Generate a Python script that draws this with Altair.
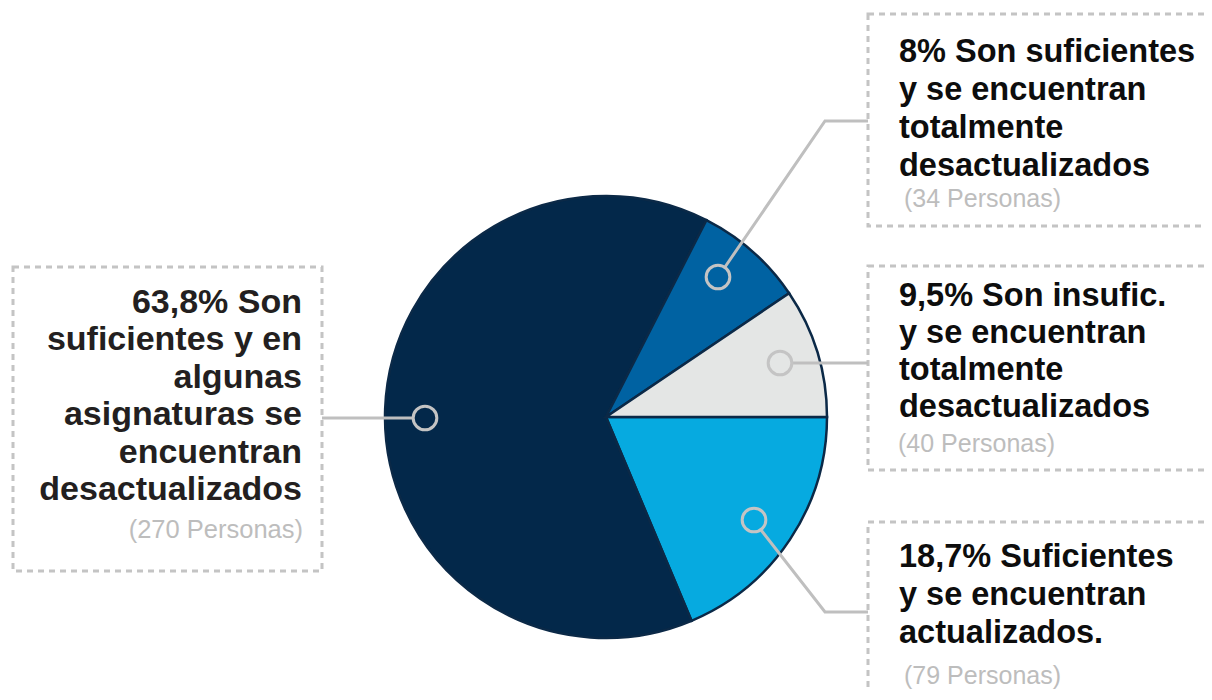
import math
import altair as alt
import pandas as pd

# ---------------- data ----------------
categorias = [
    "Suficientes y actualizados",
    "Suficientes, algunas asignaturas desactualizadas",
    "Suficientes y totalmente desactualizados",
    "Insuficientes y totalmente desactualizados",
]
personas = [79, 270, 34, 40]
orden = [1, 2, 3, 4]
colores = ["#06aae0", "#03284a", "#0062a2", "#e4e6e5"]

etiquetas = [
    ["63,8% Son", "suficientes y en", "algunas", "asignaturas se", "encuentran", "desactualizados"],
    ["8% Son suficientes", "y se encuentran", "totalmente", "desactualizados"],
    ["9,5% Son insufic.", "y se encuentran", "totalmente", "desactualizados"],
    ["18,7% Suficientes", "y se encuentran", "actualizados."],
]
etiquetas_personas = ["(270 Personas)", "(34 Personas)", "(40 Personas)", "(79 Personas)"]

# ---------------- layout (page pixel coordinates) ----------------
W, H = 1196, 684
CX, CY, R = 606, 417, 221
text_x = [302, 899, 899, 899]
text_base = [
    [313, 350, 388, 425, 463, 500],
    [62, 100, 138, 176],
    [306, 343, 380, 417],
    [567, 605, 643],
]
grey_x = [303, 904, 898, 904]
grey_base = [538, 207, 452, 684]
markers = [(425, 418), (718, 277), (780, 363), (754, 520)]
connectors = [
    [(413, 418), (322, 418)],
    [(725, 267), (825, 121), (868, 121)],
    [(792, 363), (868, 363)],
    [(761, 530), (825, 612), (868, 612)],
]
boxes = [(13, 322, 267, 571), (868, 1220, 14, 226), (868, 1220, 266, 470), (868, 1220, 522, 720)]

xs = alt.Scale(domain=[8, 8 + W], range=[0, W])
ys = alt.Scale(domain=[8, 8 + H], range=[0, H])

# ---------------- pie ----------------
pie_df = pd.DataFrame({"categoria": categorias, "personas": personas, "orden": orden})
pie = alt.Chart(pie_df).mark_arc(
    outerRadius=R, stroke="#0b2947", strokeWidth=2.5
).encode(
    theta=alt.Theta("personas:Q", stack=True,
                    scale=alt.Scale(range=[math.pi / 2, math.pi / 2 + 2 * math.pi])),
    color=alt.Color("categoria:N", scale=alt.Scale(domain=categorias, range=colores), legend=None),
    order=alt.Order("orden:Q"),
    x=alt.value(CX - 8),
    y=alt.value(CY - 8),
)

# ---------------- boxes ----------------
box_df = pd.DataFrame(boxes, columns=["x", "x2", "y", "y2"])
box = alt.Chart(box_df).mark_rect(
    fillOpacity=0, stroke="#c4c4c4", strokeWidth=3, strokeDash=[6, 5]
).encode(
    x=alt.X("x:Q", scale=xs, axis=None), x2="x2:Q",
    y=alt.Y("y:Q", scale=ys, axis=None), y2="y2:Q",
)

# ---------------- connectors ----------------
rows = []
for i, seg in enumerate(connectors):
    for k, (px, py) in enumerate(seg):
        rows.append({"id": i, "k": k, "x": px, "y": py})
con_df = pd.DataFrame(rows)
con = alt.Chart(con_df).mark_line(color="#bfbfbf", strokeWidth=3, strokeJoin="miter").encode(
    x=alt.X("x:Q", scale=xs, axis=None),
    y=alt.Y("y:Q", scale=ys, axis=None),
    detail="id:N",
    order="k:Q",
)

mk_df = pd.DataFrame(markers, columns=["x", "y"])
mk = alt.Chart(mk_df).mark_point(
    shape="circle", filled=False, size=560, strokeWidth=3, color="#c4c4c4", opacity=1
).encode(
    x=alt.X("x:Q", scale=xs, axis=None),
    y=alt.Y("y:Q", scale=ys, axis=None),
)

# ---------------- texts ----------------
left_rows, right_rows, grey_left, grey_right = [], [], [], []
for i, lines in enumerate(etiquetas):
    for t, b in zip(lines, text_base[i]):
        (left_rows if i == 0 else right_rows).append({"x": text_x[i], "y": b, "t": t})
    (grey_left if i == 0 else grey_right).append({"x": grey_x[i], "y": grey_base[i], "t": etiquetas_personas[i]})

def text_layer(rows, align, size, color, weight):
    return alt.Chart(pd.DataFrame(rows)).mark_text(
        align=align, baseline="alphabetic", font="Liberation Sans",
        fontSize=size, fontWeight=weight, color=color
    ).encode(
        x=alt.X("x:Q", scale=xs, axis=None),
        y=alt.Y("y:Q", scale=ys, axis=None),
        text="t:N",
    )

t_left = text_layer(left_rows, "right", 34, "#231f20", "bold")
t_right = text_layer(right_rows, "left", 32.5, "#0d0d0d", "bold")
g_left = text_layer(grey_left, "right", 25.5, "#bdbdbd", "normal")
g_right = text_layer(grey_right, "left", 25, "#bdbdbd", "normal")

chart = alt.layer(box, pie, con, mk, t_left, t_right, g_left, g_right).properties(
    width=W, height=H, padding=0, autosize="none"
).configure_view(strokeWidth=0).resolve_scale(color="independent")

chart.save("out.html", embed_options={"renderer": "svg", "actions": False})
